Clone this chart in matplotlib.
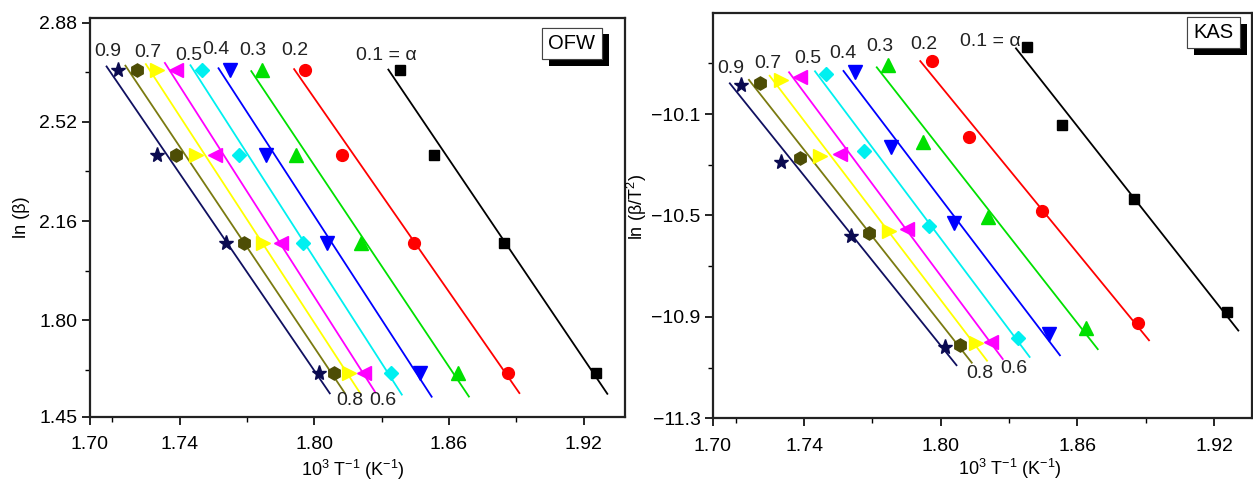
import numpy as np
import matplotlib.pyplot as plt
from matplotlib import patheffects

plt.rcParams.update({
    "font.family": ["Liberation Sans", "DejaVu Sans"],
    "mathtext.fontset": "custom",
    "mathtext.rm": "Liberation Sans",
    "mathtext.it": "Liberation Sans:italic",
    "mathtext.default": "regular",
    "font.size": 13.5,
    "xtick.labelsize": 14,
    "ytick.labelsize": 14,
    "axes.labelsize": 13,
})

# conversion degrees, left -> right order of the lines is 0.9 ... 0.1
alphas = ["0.1", "0.2", "0.3", "0.4", "0.5", "0.6", "0.7", "0.8", "0.9"]

# 1000/T (1/K) for each alpha, heating rates ascending (5, 8, 11, 15)
inv_T = {
    "0.1": [1.9256, 1.8847, 1.8533, 1.8380],
    "0.2": [1.8864, 1.8445, 1.8123, 1.7960],
    "0.3": [1.8639, 1.8209, 1.7920, 1.7769],
    "0.4": [1.8473, 1.8058, 1.7783, 1.7623],
    "0.5": [1.8340, 1.7950, 1.7665, 1.7498],
    "0.6": [1.8222, 1.7853, 1.7557, 1.7384],
    "0.7": [1.8153, 1.7771, 1.7472, 1.7299],
    "0.8": [1.8086, 1.7686, 1.7382, 1.7208],
    "0.9": [1.8019, 1.7606, 1.7300, 1.7124],
}

# OFW: ln(beta)
ln_beta = [1.609, 2.079, 2.398, 2.708]

# KAS: ln(beta/T^2)
ln_beta_T2 = {
    "0.1": [-10.882, -10.435, -10.143, -9.837],
    "0.2": [-10.923, -10.483, -10.190, -9.890],
    "0.3": [-10.945, -10.505, -10.209, -9.907],
    "0.4": [-10.969, -10.529, -10.231, -9.933],
    "0.5": [-10.982, -10.542, -10.245, -9.943],
    "0.6": [-10.998, -10.555, -10.258, -9.955],
    "0.7": [-11.005, -10.560, -10.266, -9.966],
    "0.8": [-11.011, -10.571, -10.275, -9.977],
    "0.9": [-11.020, -10.580, -10.288, -9.986],
}

styles = {
    "0.1": dict(line="#000000", mk="#000000", marker="s", ms=7.5),
    "0.2": dict(line="#ff0000", mk="#ff0000", marker="o", ms=8.5),
    "0.3": dict(line="#00e000", mk="#00e000", marker="^", ms=9.5),
    "0.4": dict(line="#0000ff", mk="#0000ff", marker="v", ms=9.5),
    "0.5": dict(line="#00f0f0", mk="#00f0f0", marker="D", ms=7.5),
    "0.6": dict(line="#ff00ff", mk="#ff00ff", marker="<", ms=9.5),
    "0.7": dict(line="#ffff00", mk="#ffff00", marker=">", ms=9.5),
    "0.8": dict(line="#7a7a10", mk="#4d4d05", marker="h", ms=9.5),
    "0.9": dict(line="#101060", mk="#0a0a50", marker="*", ms=11),
}

# label text positions (data coords) for each panel
ofw_labels = [("0.9", 1.7081, 2.775), ("0.7", 1.7260, 2.770), ("0.5", 1.7439, 2.762),
              ("0.4", 1.7562, 2.781), ("0.3", 1.7724, 2.778), ("0.2", 1.7914, 2.778),
              ("0.1 = α", 1.8320, 2.762), ("0.8", 1.8156, 1.508), ("0.6", 1.8306, 1.508)]
kas_labels = [("0.9", 1.7080, -9.922), ("0.7", 1.7241, -9.900), ("0.5", 1.7415, -9.880),
              ("0.4", 1.7569, -9.861), ("0.3", 1.7731, -9.835), ("0.2", 1.7927, -9.825),
              ("0.1 = α", 1.8217, -9.815), ("0.8", 1.8170, -11.123), ("0.6", 1.8322, -11.103)]

fig = plt.figure(figsize=(12.53, 4.82), dpi=100)
ax1 = fig.add_axes([0.0718, 0.1355, 0.4274, 0.8272])
ax2 = fig.add_axes([0.5690, 0.1322, 0.4302, 0.8415])


def draw(ax, yvals, labels):
    for a in alphas:
        x = np.array(inv_T[a])
        y = np.array(yvals[a]) if isinstance(yvals, dict) else np.array(yvals)
        st = styles[a]
        k, b = np.polyfit(x, y, 1)
        xl = np.array([x.min() - 0.005, x.max() + 0.005])
        ax.plot(xl, k * xl + b, color=st["line"], lw=1.3, zorder=2)
        ax.plot(x, y, ls="none", marker=st["marker"], ms=st["ms"],
                color=st["mk"], mec=st["mk"], zorder=3)
    for txt, tx, ty in labels:
        ax.text(tx, ty, txt, ha="center", va="center", fontsize=14, color="#222222")


draw(ax1, ln_beta, ofw_labels)
draw(ax2, ln_beta_T2, kas_labels)

ax1.set_xlim(1.70, 1.9387)
ax1.set_ylim(1.45, 2.897)
ax1.set_yticks([1.45, 1.80, 2.16, 2.52, 2.88])
ax1.set_yticks([1.62, 1.98, 2.34, 2.70], minor=True)
ax1.set_yticklabels(["1.45", "1.80", "2.16", "2.52", "2.88"])
ax1.set_ylabel("ln (β)")
ax1.yaxis.set_label_coords(-0.112, 0.5)

ax2.set_xlim(1.70, 1.9366)
ax2.set_ylim(-11.3, -9.70)
ax2.set_yticks([-11.3, -10.9, -10.5, -10.1])
ax2.set_yticks([-11.1, -10.7, -10.3, -9.9], minor=True)
ax2.set_yticklabels(["\u221211.3", "\u221210.9", "\u221210.5", "\u221210.1"])
ax2.set_ylabel("ln (β/T$^2$)")
ax2.yaxis.set_label_coords(-0.118, 0.52)

for ax in (ax1, ax2):
    ax.set_xticks([1.70, 1.74, 1.80, 1.86, 1.92])
    ax.set_xticks([1.71, 1.77, 1.83, 1.89], minor=True)
    ax.set_xticklabels(["1.70", "1.74", "1.80", "1.86", "1.92"])
    ax.set_xlabel("10$^3$ T$^{-1}$ (K$^{-1}$)")
    ax.tick_params(which="major", direction="out", length=6, width=1.2)
    ax.tick_params(axis="x", which="major", pad=8)
    ax.tick_params(axis="y", which="major", pad=3)
    ax.tick_params(which="minor", direction="out", length=3.5, width=1.0)
    for s in ax.spines.values():
        s.set_linewidth(1.6)
        s.set_color("#222222")

ax1.xaxis.set_label_coords(0.49, -0.103)
ax2.xaxis.set_label_coords(0.55, -0.094)


def tag(ax, text, x, y):
    t = ax.text(x, y, text, transform=ax.transAxes, ha="center", va="center",
                fontsize=14.5, zorder=5,
                bbox=dict(boxstyle="square,pad=0.32", fc="white", ec="#444444", lw=0.8))
    t.get_bbox_patch().set_path_effects([
        patheffects.withSimplePatchShadow(offset=(5, -5), shadow_rgbFace="black", alpha=1.0),
        patheffects.Normal()])


tag(ax1, "OFW", 0.900, 0.936)
tag(ax2, "KAS", 0.928, 0.951)

fig.savefig("out.png", dpi=100)
